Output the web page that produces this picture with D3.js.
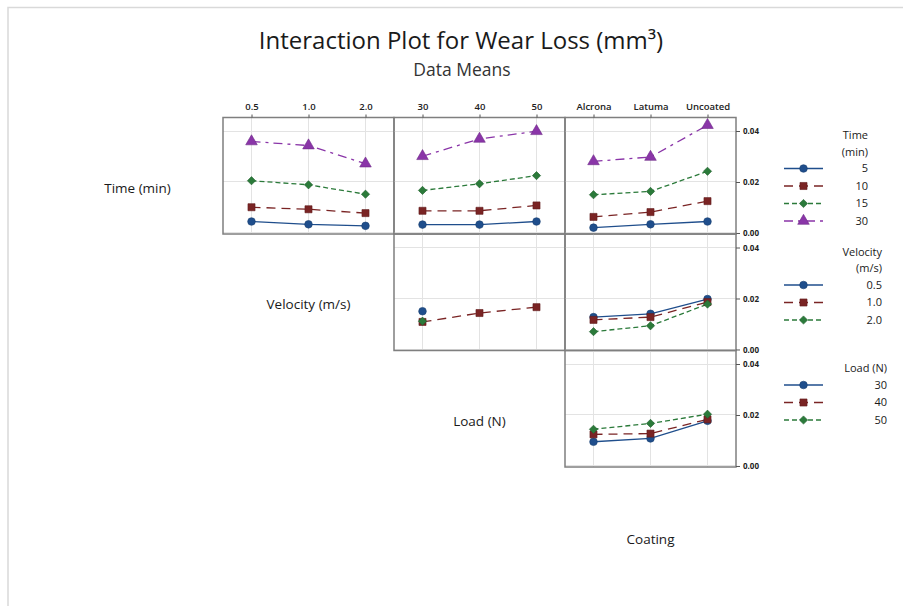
<!DOCTYPE html>
<html>
  <head>
    <meta charset="utf-8">
    <title>Interaction Plot for Wear Loss</title>
    <style>
      body {
        margin: 0px;
        overflow: hidden;
        background: white;
      }

      text {
        font-family: "Open Sans", "Noto Sans", sans-serif;
        fill: #1a1a1a;
      }

      .frame {
        fill: none;
        stroke: #d9d9d9;
        stroke-width: 1.5px;
      }

      .grid line {
        stroke: #e3e3e3;
        stroke-width: 1px;
        shape-rendering: crispEdges;
      }

      .box {
        fill: none;
        stroke: #7f7f7f;
        stroke-width: 1.5px;
      }

      .axis path.domain {
        display: none;
      }

      .axis line {
        stroke: #555;
      }

      .axis text {
        font-size: 8px;
        font-weight: bold;
        fill: #222;
      }

      .axis.top text {
        font-size: 9.5px;
        font-weight: 600;
      }

      .factor-label {
        font-size: 13.5px;
        text-anchor: middle;
      }

      .legend text {
        font-size: 11px;
        text-anchor: end;
      }
    </style>
  </head>
  <body>
    <svg id="container" width="903" height="606"></svg>
    <script src="https://cdn.jsdelivr.net/npm/d3@7/dist/d3.min.js"></script>
    <script type="text/javascript">
      // factor levels
      var timeLevels = ['5', '10', '15', '30'],
        velocityLevels = ['0.5', '1.0', '2.0'],
        loadLevels = ['30', '40', '50'],
        coatingLevels = ['Alcrona', 'Latuma', 'Uncoated'],
        yTicks = [0, 0.02, 0.04];

      // means: one array per trace level, one value per x level
      var timeByVelocity = [
        [0.0045, 0.0034, 0.0028],
        [0.0101, 0.0093, 0.0078],
        [0.0205, 0.0189, 0.0152],
        [0.0359, 0.0343, 0.0272]
      ];
      var timeByLoad = [
        [0.0033, 0.0033, 0.0045],
        [0.0087, 0.0087, 0.0108],
        [0.0167, 0.0193, 0.0225],
        [0.0301, 0.0369, 0.0399]
      ];
      var timeByCoating = [
        [0.0021, 0.0034, 0.0045],
        [0.0063, 0.0082, 0.0125],
        [0.0150, 0.0163, 0.0242],
        [0.0281, 0.0298, 0.0423]
      ];
      var velocityByLoad = [
        [0.0150, null, null],
        [0.0108, 0.0143, 0.0166],
        [0.0111, null, null]
      ];
      var velocityByCoating = [
        [0.0127, 0.0140, 0.0198],
        [0.0116, 0.0127, 0.0186],
        [0.0070, 0.0093, 0.0178]
      ];
      var loadByCoating = [
        [0.0095, 0.0108, 0.0177],
        [0.0124, 0.0127, 0.0183],
        [0.0144, 0.0167, 0.0203]
      ];

      var factorNames = ['Time (min)', 'Velocity (m/s)', 'Load (N)', 'Coating'],
        legendTitles = [['Time', '(min)'], ['Velocity', '(m/s)'], ['Load (N)']],
        traceLevels = [timeLevels, velocityLevels, loadLevels],
        xLevels = [velocityLevels, loadLevels, coatingLevels];

      var panels = [
        { row: 0, col: 0, values: timeByVelocity },
        { row: 0, col: 1, values: timeByLoad },
        { row: 0, col: 2, values: timeByCoating },
        { row: 1, col: 1, values: velocityByLoad },
        { row: 1, col: 2, values: velocityByCoating },
        { row: 2, col: 2, values: loadByCoating }
      ];

      var colors = ['#1f4e8c', '#7a2424', '#2b7a3a', '#8a35a8'],
        dashes = [null, '9,6', '5,3', '9,5,3,5'],
        symbols = [
          d3.symbol().type(d3.symbolCircle).size(46),
          d3.symbol().type(d3.symbolSquare).size(50),
          d3.symbol().type(d3.symbolSquare).size(34),
          d3.symbol().type(d3.symbolTriangle).size(58)
        ],
        symbolRotate = [0, 0, 45, 0];

      var left0 = 52, top0 = 117.5,
        cellW = 171, cellH = 116.5,
        legendX = 784, legendRight = [868, 882, 887];

      var svg = d3.select('#container');

      // outer frame (top and left edges only)
      svg.append('path')
        .attr('class', 'frame')
        .attr('d', 'M8,606 L8,7.5 L903,7.5');

      svg.append('text')
        .attr('x', 461).attr('y', 49)
        .attr('text-anchor', 'middle')
        .style('font-size', '24px')
        .text('Interaction Plot for Wear Loss (mm\u00b3)');

      svg.append('text')
        .attr('x', 462).attr('y', 76)
        .attr('text-anchor', 'middle')
        .style('font-size', '17.5px')
        .style('fill', '#333')
        .text('Data Means');

      var y = d3.scaleLinear().domain([-0.0004, 0.0453]).range([cellH, 0]);

      function drawMark(g, t, px, py) {
        g.append('path')
          .attr('d', symbols[t]())
          .attr('transform', 'translate(' + px + ',' + py + ') rotate(' + symbolRotate[t] + ')')
          .attr('fill', colors[t])
          .attr('stroke', d3.color(colors[t]).darker(0.6))
          .attr('stroke-width', 0.6);
      }

      panels.forEach(function(p) {
        var x = d3.scalePoint().domain(xLevels[p.col]).range([0, cellW]).padding(0.5);
        var g = svg.append('g')
          .attr('transform', 'translate(' + (left0 + (p.col + 1) * cellW) + ',' + (top0 + p.row * cellH) + ')');

        var grid = g.append('g').attr('class', 'grid');
        grid.selectAll('.h').data(yTicks).enter().append('line')
          .attr('x1', 0).attr('x2', cellW)
          .attr('y1', function(d) { return y(d); })
          .attr('y2', function(d) { return y(d); });
        grid.selectAll('.v').data(xLevels[p.col]).enter().append('line')
          .attr('x1', function(d) { return x(d); })
          .attr('x2', function(d) { return x(d); })
          .attr('y1', 0).attr('y2', cellH);

        p.values.forEach(function(vals, t) {
          var pts = vals.map(function(v, i) { return { k: xLevels[p.col][i], v: v }; })
            .filter(function(d) { return d.v !== null; });
          var line = d3.line()
            .x(function(d) { return x(d.k); })
            .y(function(d) { return y(d.v); });
          if (pts.length > 1) {
            g.append('path')
              .attr('d', line(pts))
              .attr('fill', 'none')
              .attr('stroke', colors[t])
              .attr('stroke-width', 1.3)
              .attr('stroke-dasharray', dashes[t]);
          }
        });
        p.values.forEach(function(vals, t) {
          vals.forEach(function(v, i) {
            if (v !== null) drawMark(g, t, x(xLevels[p.col][i]), y(v));
          });
        });

        g.append('rect')
          .attr('class', 'box')
          .attr('width', cellW).attr('height', cellH);

        if (p.row === 0) {
          g.append('g').attr('class', 'axis top')
            .call(d3.axisTop(x).tickSize(3).tickPadding(5));
        }
        if (p.col === 2) {
          g.append('g').attr('class', 'axis')
            .attr('transform', 'translate(' + cellW + ',0)')
            .call(d3.axisRight(y).tickValues(yTicks).tickFormat(d3.format('.2f')).tickSize(4).tickPadding(3));
        }
      });

      // factor names on the diagonal
      factorNames.forEach(function(name, i) {
        svg.append('text')
          .attr('class', 'factor-label')
          .attr('x', left0 + i * cellW + cellW / 2)
          .attr('y', top0 + i * cellH + cellH / 2 + 17 + (i === 3 ? 2 : 0))
          .text(name);
      });

      // legends, one per trace factor
      traceLevels.forEach(function(levels, r) {
        var lg = svg.append('g').attr('class', 'legend'),
          yy = top0 + r * cellH + 21.5;
        legendTitles[r].forEach(function(t) {
          lg.append('text').attr('x', legendRight[r]).attr('y', yy).text(t);
          yy += 16.5;
        });
        levels.forEach(function(lev, t) {
          var cy = yy - 3.5 + t * 17.5;
          lg.append('line')
            .attr('x1', legendX).attr('x2', legendX + 39)
            .attr('y1', cy).attr('y2', cy)
            .attr('stroke', colors[t])
            .attr('stroke-width', 1.3)
            .attr('stroke-dasharray', dashes[t]);
          drawMark(lg, t, legendX + 19.5, cy);
          lg.append('text').attr('x', legendRight[r]).attr('y', cy + 3.5).text(lev);
        });
      });
    </script>
  </body>
</html>
